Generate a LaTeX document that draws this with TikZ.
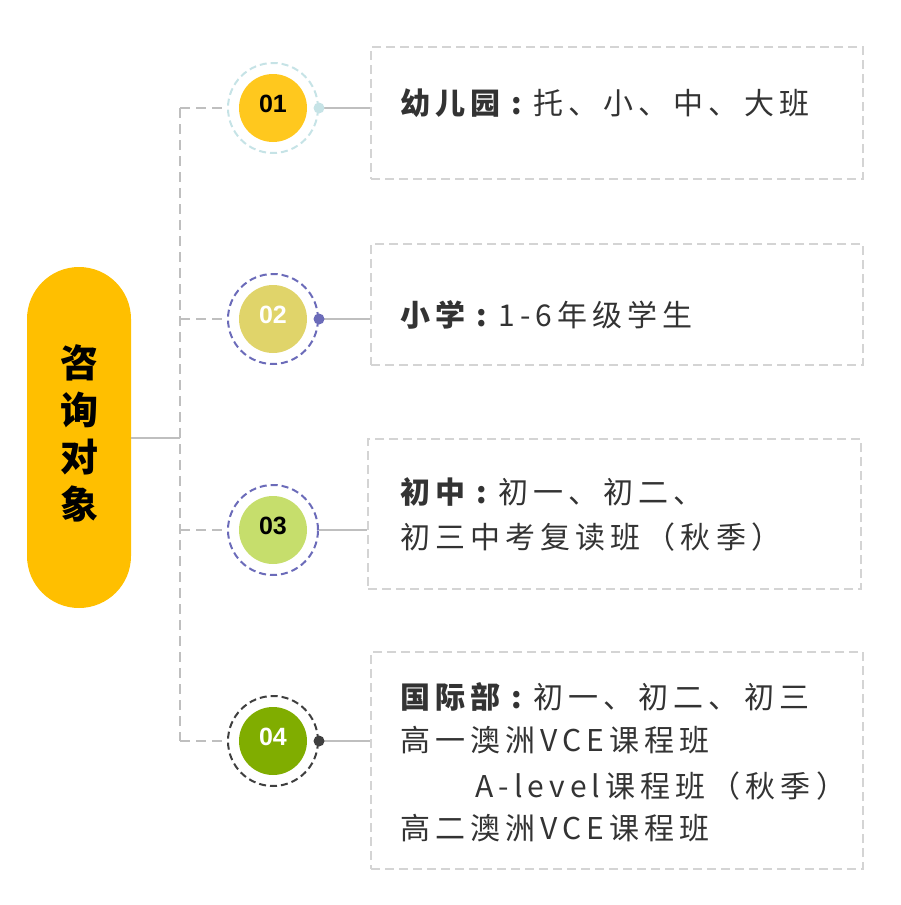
\documentclass[tikz,border=0pt]{standalone}
\usepackage{fontspec}
\setmainfont{Liberation Sans}
\newfontfamily\cjk[LetterSpace=17]{Noto Sans CJK SC}
\newfontfamily\cjkp{Noto Sans CJK SC}
\newcommand{\fwcolon}{\makebox[33pt][c]{\cjkp\bfseries :}}
\definecolor{pillc}{HTML}{FFBF00}
\definecolor{fa}{HTML}{FFC81E}
\definecolor{fb}{HTML}{E0D46A}
\definecolor{fc}{HTML}{C6DE6C}
\definecolor{fd}{HTML}{80AD00}
\definecolor{ra}{HTML}{C6E3E6}
\definecolor{rb}{HTML}{6B6BB9}
\definecolor{rd}{HTML}{3F3F3F}
\definecolor{linec}{HTML}{BFBFBF}
\definecolor{boxc}{HTML}{D4D4D4}
\definecolor{txt}{HTML}{333333}
\tikzset{
  trunk/.style={draw=linec, line width=2.5pt, dash pattern=on 10pt off 6pt},
  solidline/.style={draw=linec, line width=2.5pt},
  ring/.style={circle, minimum size=90pt, inner sep=0pt, line width=2pt, dash pattern=on 7pt off 4pt},
  disc/.style={circle, minimum size=68pt, inner sep=0pt},
  numtxt/.style={inner sep=0pt, font=\bfseries\fontsize{25}{25}\selectfont},
  dot/.style={circle, minimum size=11pt, inner sep=0pt},
  infobox/.style={draw=boxc, line width=2pt, dash pattern=on 9pt off 5pt, rectangle, anchor=north west},
  txtline/.style={anchor=base west, inner sep=0pt, text=txt, font=\cjk\fontsize{30}{30}\selectfont}
}
\begin{document}
\begin{tikzpicture}[x=1pt,y=-1pt]
\useasboundingbox (0,0) rectangle (900,905);
% central pill
\node[fill=pillc, rounded corners=52pt, minimum width=104pt, minimum height=341pt, inner sep=0pt] (pill) at (79,437.5) {};
\node[align=center, font=\cjkp\bfseries\fontsize{38}{47}\selectfont, inner sep=0pt] (ptxt) at (79,433) {咨\\询\\对\\象};
% trunk
\coordinate (jm) at (180,438);
\coordinate (j1) at (180,108);
\coordinate (j2) at (180,319);
\coordinate (j3) at (180,530);
\coordinate (j4) at (180,741);
\draw[solidline] (pill.east |- jm) -- (jm);
\draw[trunk] (j1) -- (j4);
% circles
\node[disc, fill=fa] (c1) at (273,108) {};
\node[ring, draw=ra] (o1) at (273,108) {};
\node[disc, fill=fb] (c2) at (273,319) {};
\node[ring, draw=rb] (o2) at (273,319) {};
\node[disc, fill=fc] (c3) at (273,530) {};
\node[ring, draw=rb] (o3) at (273,530) {};
\node[disc, fill=fd] (c4) at (273,741) {};
\node[ring, draw=rd] (o4) at (273,741) {};
\node[numtxt, text=black] (n1) at (273,104) {01};
\node[numtxt, text=white] (n2) at (273,315) {02};
\node[numtxt, text=black] (n3) at (273,526) {03};
\node[numtxt, text=white] (n4) at (273,737) {04};
% boxes
\node[infobox, minimum width=492pt, minimum height=132pt] (b1) at (370,46) {};
\node[infobox, minimum width=492pt, minimum height=121pt] (b2) at (370,243) {};
\node[infobox, minimum width=493pt, minimum height=150pt] (b3) at (367,438) {};
\node[infobox, minimum width=492pt, minimum height=217pt] (b4) at (370,651) {};
% branches
\draw[trunk] (j1) -- (o1.west);
\draw[trunk] (j2) -- (o2.west);
\draw[trunk] (j3) -- (o3.west);
\draw[trunk] (j4) -- (o4.west);
\draw[solidline] (o1.east) -- (o1.east -| b1.west);
\draw[solidline] (o2.east) -- (o2.east -| b2.west);
\draw[solidline] (o3.east) -- (o3.east -| b3.west);
\draw[solidline] (o4.east) -- (o4.east -| b4.west);
\node[dot, fill=ra] (d1) at (o1.east) {};
\node[dot, fill=rb] (d2) at (o2.east) {};
\node[dot, fill=rd] (d4) at (o4.east) {};
% texts
\node[txtline] (t1) at (400,114) {{\bfseries 幼儿园}\fwcolon 托、小、中、大班};
\node[txtline] (t2) at (400,326) {{\bfseries 小学}\fwcolon 1-6年级学生};
\node[txtline] (t3a) at (400,503) {{\bfseries 初中}\fwcolon 初一、初二、};
\node[txtline] (t3b) at (400,548) {初三中考复读班（秋季）};
\node[txtline] (t4a) at (400,708) {{\bfseries 国际部}\fwcolon 初一、初二、初三};
\node[txtline] (t4b) at (400,751) {高一澳洲VCE课程班};
\node[txtline] (t4c) at (475,797) {A-level课程班（秋季）};
\node[txtline] (t4d) at (400,839) {高二澳洲VCE课程班};
\end{tikzpicture}
\end{document}
